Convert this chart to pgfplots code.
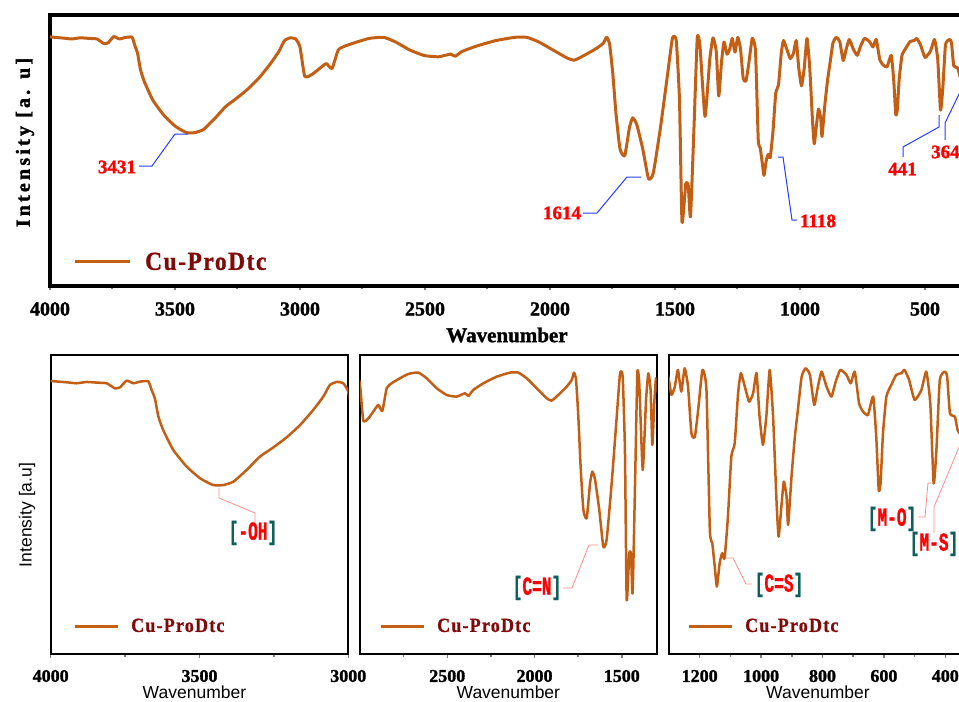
\documentclass[border=0pt]{standalone}
\usepackage{fontspec}
\setmainfont{Liberation Serif}
\setsansfont{Liberation Sans}
\newfontfamily\heavy{Liberation Serif}[FakeBold=1.5]
\newfontfamily\heavyspaced{Liberation Serif}[FakeBold=1.5,LetterSpace=16]
\newfontfamily\legspaced{Liberation Serif}[FakeBold=1,FakeStretch=0.9,LetterSpace=6]
\newfontfamily\monob{Liberation Mono}[FakeStretch=0.62,FakeBold=1]
\usepackage{pgfplots}
\usepackage{pgfplotstable}
\pgfplotsset{compat=1.18}

\definecolor{curve}{RGB}{195,95,20}
\definecolor{legred}{RGB}{128,10,10}
\definecolor{annred}{RGB}{255,0,0}
\definecolor{leadblue}{RGB}{40,60,255}
\definecolor{leadpink}{RGB}{255,140,140}
\definecolor{bteal}{RGB}{15,95,90}

\newcommand\numfont{\heavy\bfseries\fontsize{19bp}{19bp}\selectfont}
\newcommand\blab[1]{{\monob\bfseries\fontsize{26bp}{26bp}\selectfont\textcolor{bteal}{[}\textcolor{annred}{#1}\textcolor{bteal}{]}}}

\pgfplotstableread{
wn v
4000 250.1
3946 248.9
3913 248.0
3879 249.2
3845 248.6
3812 248.0
3784 243.3
3767 244.3
3745 250.4
3722 248.0
3700 249.5
3672 249.8
3661 241.8
3650 234.1
3638 217.3
3622 205.0
3588 186.6
3543 171.3
3498 160.6
3454 154.4
3420 154.4
3386 157.5
3342 168.2
3297 180.5
3252 189.0
3207 198.3
3162 209.6
3118 223.4
3084 235.7
3062 246.4
3039 249.2
3017 248.0
3000 240.0
2981 210.7
2952 212.6
2924 218.0
2895 223.4
2872 218.5
2847 237.0
2819 241.0
2771 245.1
2723 248.6
2666 249.7
2618 245.1
2561 237.0
2503 231.5
2446 230.2
2398 232.9
2379 230.7
2351 235.6
2293 241.0
2217 246.4
2140 249.7
2093 249.7
2045 245.1
1988 237.0
1930 228.8
1902 226.9
1864 231.5
1816 238.3
1787 243.7
1774 249.7
1762 243.7
1749 213.9
1736 173.3
1720 138.1
1701 131.3
1682 159.7
1669 169.2
1653 162.5
1629 138.1
1606 108.3
1587 113.7
1558 159.7
1529 213.9
1510 249.1
1495 246.4
1482 186.8
1472 65.0
1457 102.9
1447 101.5
1438 70.3
1424 159.7
1411 249.1
1400 241.0
1380 170.6
1361 227.5
1348 249.1
1335 235.6
1325 190.9
1314 224.8
1304 245.0
1292 232.8
1281 238.0
1271 248.6
1260 234.9
1249 249.6
1238 238.0
1227 208.5
1216 206.0
1205 223.3
1191 248.6
1178 235.9
1167 147.4
1159 139.0
1151 124.2
1144 111.6
1135 126.4
1127 132.7
1119 129.5
1108 155.9
1097 193.8
1086 202.2
1075 233.8
1066 246.5
1053 238.0
1039 228.5
1026 233.8
1015 246.5
1005 219.1
994 201.2
983 219.1
972 248.6
961 219.1
950 166.4
943 143.2
934 162.2
926 178.0
917 168.5
912 150.6
901 181.1
890 206.4
879 225.4
868 244.3
855 249.6
841 245.4
827 226.4
816 237.0
803 247.5
787 238.0
771 231.7
757 241.2
742 248.6
722 245.4
708 240.1
695 247.5
681 227.5
668 222.2
652 220.1
635 231.7
625 206.4
617 172.7
611 176.9
603 208.5
592 231.7
576 239.1
560 245.4
543 246.5
533 248.6
518 242.2
500 229.6
478 235.9
462 247.5
449 227.5
438 176.9
429 198.0
418 242.2
402 247.5
394 244.3
385 221.2
369 219.1
360 210.6
352 208.0
}\spec

\pgfplotsset{
  ftir/.style={
    scale only axis, anchor=south west, x dir=reverse,
    ytick=\empty, tick align=outside, xtick pos=bottom,
    /pgf/number format/assume math mode=true,
    /pgf/number format/1000 sep={},
    major tick length=4bp, minor tick length=2.5bp,
    legend cell align=left,
    legend style={draw=none, fill=none, anchor=west, inner sep=0pt, text=legred},
  },
}

\begin{document}
\begin{tikzpicture}
\useasboundingbox (0,0) rectangle (959bp,-702bp);

% ---------- top panel ----------
\begin{axis}[ftir,
  at={(50bp,-286bp)}, width=912.5bp, height=271bp,
  xmin=350, xmax=4000, ymin=1, ymax=272,
  xtick={500,1000,...,4000}, minor x tick num=1,
  axis line style={line width=3.5bp},
  major tick style={line width=2bp}, minor tick style={line width=2bp},
  xticklabel style={font=\heavy\bfseries\fontsize{20bp}{20bp}\selectfont, anchor=center, yshift=-19bp},
  xlabel={\heavy\bfseries\fontsize{21bp}{21bp}\selectfont Wavenumber},
  xlabel style={at={(axis description cs:0.5008,-0.1808)}, anchor=center},
  ylabel={\heavyspaced\bfseries\fontsize{20bp}{20bp}\selectfont Intensity [a. u]},
  ylabel style={at={(axis description cs:-0.0274,0.5295)}, anchor=center},
  legend style={at={(axis description cs:0.0252,0.0886)},
    font=\legspaced\bfseries\fontsize{26bp}{26bp}\selectfont},
  legend image code/.code={\draw[#1] (0bp,0bp) -- (55bp,0bp);},
  /tikz/every odd column/.append style={column sep=12bp},
]
\addplot[curve, line width=3bp, line join=round, smooth, tension=0.3] table[x=wn,y=v]{\spec};
\addlegendentry{Cu-ProDtc}
\end{axis}

% ---------- bottom left ----------
\begin{axis}[ftir,
  at={(50.7bp,-654bp)}, width=297.6bp, height=299bp,
  xmin=3000, xmax=4000, ymin=-1, ymax=274,
  xtick={3000,3500,4000}, minor x tick num=1,
  axis line style={line width=2bp},
  major tick style={line width=1.5bp}, minor tick style={line width=1.5bp},
  xticklabel style={font=\heavy\bfseries\fontsize{18bp}{18bp}\selectfont, anchor=center, yshift=-18bp},
  xlabel={\sffamily\fontsize{17.5bp}{17.5bp}\selectfont Wavenumber},
  xlabel style={at={(axis description cs:0.483,-0.127)}, anchor=center},
  ylabel={\sffamily\fontsize{17.5bp}{17.5bp}\selectfont Intensity [a.u]},
  ylabel style={at={(axis description cs:-0.0796,0.465)}, anchor=center},
  legend style={at={(axis description cs:0.075,0.0936)},
    font=\legspaced\bfseries\fontsize{20bp}{20bp}\selectfont},
  legend image code/.code={\draw[#1, line width=3bp] (0bp,0bp) -- (43bp,0bp);},
  /tikz/every odd column/.append style={column sep=10bp},
]
\addplot[curve, line width=2.5bp, line join=round, smooth, tension=0.3] table[x=wn,y=v]{\spec};
\addlegendentry{Cu-ProDtc}
\end{axis}

% ---------- bottom middle ----------
\begin{axis}[ftir,
  at={(360bp,-654bp)}, width=296.7bp, height=299bp,
  xmin=1300, xmax=3000, ymin=21, ymax=264,
  xtick={1500,2000,2500}, minor xtick={1750,2250,2750},
  axis line style={line width=2bp},
  major tick style={line width=1.5bp}, minor tick style={line width=1.5bp},
  xticklabel style={font=\heavy\bfseries\fontsize{18bp}{18bp}\selectfont, anchor=center, yshift=-18bp},
  xlabel={\sffamily\fontsize{17.5bp}{17.5bp}\selectfont Wavenumber},
  xlabel style={at={(axis description cs:0.5,-0.127)}, anchor=center},
  legend style={at={(axis description cs:0.064,0.0936)},
    font=\legspaced\bfseries\fontsize{20bp}{20bp}\selectfont},
  legend image code/.code={\draw[#1, line width=3bp] (0bp,0bp) -- (43bp,0bp);},
  /tikz/every odd column/.append style={column sep=10bp},
]
\addplot[curve, line width=2.5bp, line join=round, smooth, tension=0.3] table[x=wn,y=v]{\spec};
\addlegendentry{Cu-ProDtc}
\end{axis}

% ---------- bottom right ----------
\begin{axis}[ftir,
  at={(669bp,-654bp)}, width=293.2bp, height=299bp,
  xmin=345, xmax=1300, ymin=69, ymax=258,
  xtick={400,600,...,1200}, minor x tick num=1,
  axis line style={line width=2bp},
  major tick style={line width=1.5bp}, minor tick style={line width=1.5bp},
  xticklabel style={font=\heavy\bfseries\fontsize{18bp}{18bp}\selectfont, anchor=center, yshift=-18bp},
  xlabel={\sffamily\fontsize{17.5bp}{17.5bp}\selectfont Wavenumber},
  xlabel style={at={(axis description cs:0.508,-0.127)}, anchor=center},
  legend style={at={(axis description cs:0.0614,0.0936)},
    font=\legspaced\bfseries\fontsize{20bp}{20bp}\selectfont},
  legend image code/.code={\draw[#1, line width=3bp] (0bp,0bp) -- (43bp,0bp);},
  /tikz/every odd column/.append style={column sep=10bp},
]
\addplot[curve, line width=2.5bp, line join=round, smooth, tension=0.3] table[x=wn,y=v]{\spec};
\addlegendentry{Cu-ProDtc}
\end{axis}

% ---------- annotations ----------
\begin{scope}[x=1bp,y=-1bp]
\draw[leadblue, line width=1bp] (139,166)--(152,166)--(175,134)--(188,134);
\node[text=annred, font=\numfont, inner sep=0pt] at (117,167) {3431};
\draw[leadblue, line width=1bp] (583,213)--(597,213)--(627,177)--(641,177);
\node[text=annred, font=\numfont, inner sep=0pt] at (562,213) {1614};
\draw[leadblue, line width=1bp] (778,157)--(783,157)--(792,220)--(797,220);
\node[text=annred, font=\numfont, inner sep=0pt] at (818,221) {1118};
\draw[leadblue, line width=1bp] (903,157)--(903,147)--(939,127)--(939,115);
\node[text=annred, font=\numfont, inner sep=0pt] at (902.5,169) {441};
\draw[leadblue, line width=1bp] (945,140)--(945,123)--(962,88);
\node[text=annred, font=\numfont, inner sep=0pt, anchor=west] at (931,152) {364};

\draw[leadpink, line width=0.8bp] (219,488)--(219,498)--(255,513)--(255,522);
\node[inner sep=0pt] at (253,533) {\blab{-OH}};
\draw[leadpink, line width=0.8bp] (563,588)--(572,588)--(589,545)--(598,545);
\node[inner sep=0pt] at (537,588) {\blab{C=N}};
\draw[leadpink, line width=0.8bp] (752,584)--(746,584)--(733,558)--(725,558);
\node[inner sep=0pt] at (779,585) {\blab{C=S}};
\draw[leadpink, line width=0.8bp] (918,517)--(925,517)--(928,483)--(932,483);
\node[inner sep=0pt] at (892,519) {\blab{M-O}};
\draw[leadpink, line width=0.8bp] (934,533)--(934,507)--(962,440);
\node[inner sep=0pt] at (934,544) {\blab{M-S}};
\end{scope}
\end{tikzpicture}
\end{document}
